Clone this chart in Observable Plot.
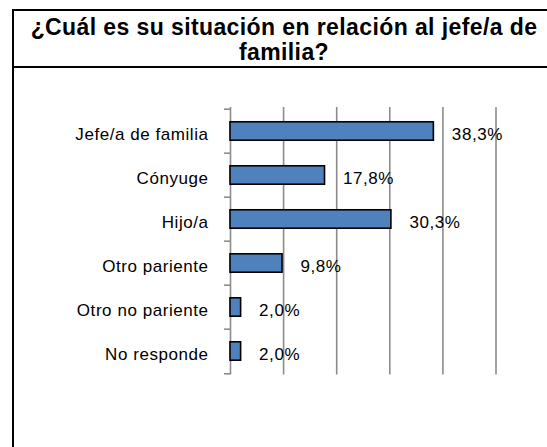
<!DOCTYPE html>
<html>
<head>
<meta charset="utf-8">
<script src="https://cdn.jsdelivr.net/npm/d3@7"></script>
<script src="https://cdn.jsdelivr.net/npm/@observablehq/plot@0.6"></script>
<style>
  html, body { margin: 0; padding: 0; overflow: hidden; background: #fff; }
  #wrap { position: relative; width: 547px; height: 447px; overflow: hidden; background: #fff; }
  #chart { position: absolute; left: 0; top: 0; }
  #frame { position: absolute; left: 12px; top: 9px; width: 700px; height: 460px; border: 2px solid #000; border-right: none; border-bottom: none; }
  #title { box-sizing: border-box; width: 700px; height: 56.7px; padding-top: 4px; border-bottom: 2px solid #000;
           font-family: "Liberation Sans", Arial, sans-serif; font-weight: bold;
           font-size: 23px; line-height: 25px; letter-spacing: 0.4px; color: #000; }
  #title div { width: 540px; text-align: center; }
</style>
</head>
<body>
<div id="wrap">
  <div id="chart"></div>
  <div id="frame"><div id="title"><div>¿Cuál es su situación en relación al jefe/a de<br>familia?</div></div></div>
</div>
<script>
const categories = ["Jefe/a de familia", "Cónyuge", "Hijo/a", "Otro pariente", "Otro no pariente", "No responde"];
const values = [38.3, 17.8, 30.3, 9.8, 2.0, 2.0];
const gridTicks = [10, 20, 30, 40, 50];

const data = categories.map((c, i) => ({cat: c, value: values[i]}));
const fmt = v => v.toFixed(1).replace(".", ",") + "%";

const W = 547, H = 447;
const mTop = 107, mBottom = 72.5, mLeft = 230, mRight = 51.5;
const step = (H - mTop - mBottom) / categories.length;
const barH = 19;
const inset = (step - barH) / 2;

const chart = Plot.plot({
  width: W,
  height: H,
  marginTop: mTop,
  marginBottom: mBottom,
  marginLeft: mLeft,
  marginRight: mRight,
  style: {background: "transparent", fontFamily: "'Liberation Sans', Arial, sans-serif", fontSize: "17px", color: "#000", letterSpacing: "0.55px"},
  x: {domain: [0, 50], axis: null},
  y: {domain: categories, padding: 0, axis: null},
  marks: [
    Plot.ruleX(gridTicks, {stroke: "#8c8c8c", strokeWidth: 1.6, strokeOpacity: 1}),
    Plot.ruleX([0], {stroke: "#8c8c8c", strokeWidth: 1.6, strokeOpacity: 1}),
    Plot.ruleY(categories, {y: d => d, x1: 0, x2: 0, insetLeft: -6, dy: -step / 2, stroke: "#8c8c8c", strokeWidth: 1.6, strokeOpacity: 1}),
    Plot.ruleY(categories.slice(-1), {y: d => d, x1: 0, x2: 0, insetLeft: -6, dy: step / 2, stroke: "#8c8c8c", strokeWidth: 1.6, strokeOpacity: 1}),
    Plot.barX(data, {x: "value", y: "cat", fill: "#4F81BD", stroke: "#000", strokeWidth: 1.6, insetTop: inset, insetBottom: inset}),
    Plot.text(data, {x: "value", y: "cat", text: d => fmt(d.value), textAnchor: "start", dx: 18, dy: 3.5, fill: "#000", fontSize: 17}),
    Plot.text(data, {x: 0, y: "cat", text: "cat", textAnchor: "end", dx: -22, dy: 3.5, fill: "#000", fontSize: 17})
  ]
});
document.getElementById("chart").appendChild(chart);
</script>
</body>
</html>
